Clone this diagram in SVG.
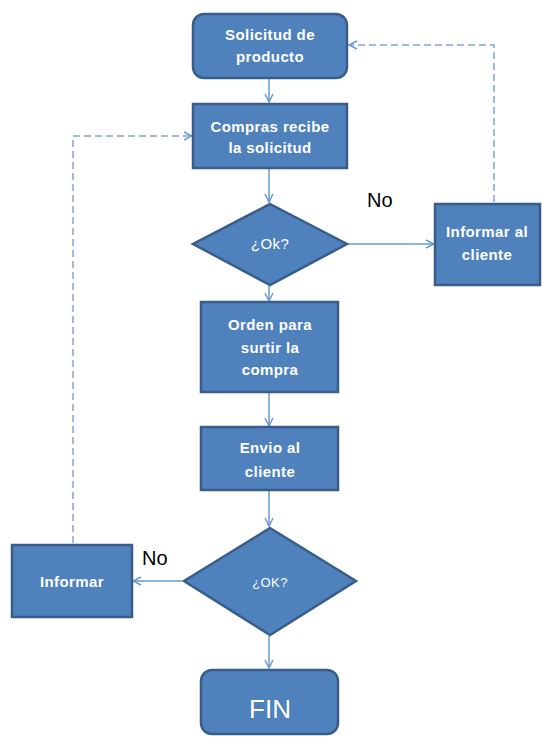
<svg xmlns="http://www.w3.org/2000/svg" width="542" height="738" viewBox="0 0 542 738">
<style>
.n{fill:#4F81BD;stroke:#385D8A;stroke-width:2.5}
.t{fill:#fff;font-family:"Liberation Sans",Arial,sans-serif;font-weight:bold;font-size:15px;letter-spacing:0.4px;text-anchor:middle}
.r{font-weight:normal}
.c{fill:none;stroke:#6A9AD4;stroke-width:1.5}
.d{fill:none;stroke:#7FA7DA;stroke-width:1.5;stroke-dasharray:7 4}
.l{fill:#000;font-family:"Liberation Sans",Arial,sans-serif;font-size:20px}
</style>
<defs>
<marker id="a" viewBox="0 0 10 10" refX="9" refY="5" markerWidth="10" markerHeight="10" markerUnits="userSpaceOnUse" orient="auto">
<polyline points="1,1 9,5 1,9" fill="none" stroke="#6A9AD4" stroke-width="1.5"/>
</marker>
</defs>
<g id="connectors">
<line class="c" x1="269" y1="79" x2="269" y2="102" marker-end="url(#a)"/>
<line class="c" x1="269" y1="169" x2="269" y2="202" marker-end="url(#a)"/>
<line class="c" x1="269" y1="286" x2="269" y2="301" marker-end="url(#a)"/>
<line class="c" x1="269" y1="393" x2="269" y2="426" marker-end="url(#a)"/>
<line class="c" x1="269" y1="491" x2="269" y2="526" marker-end="url(#a)"/>
<line class="c" x1="269" y1="636" x2="269" y2="668" marker-end="url(#a)"/>
<line class="c" x1="348" y1="244" x2="434" y2="244" marker-end="url(#a)"/>
<line class="c" x1="182" y1="581" x2="133" y2="581" marker-end="url(#a)"/>
<polyline class="d" points="494,202 494,45 349,45" marker-end="url(#a)"/>
<polyline class="d" points="73,543 73,136 192,136" marker-end="url(#a)"/>
<text class="l" x="367" y="207">No</text>
<text class="l" x="142" y="565">No</text>
</g>
<g id="solicitud">
<rect class="n" x="193" y="14" width="154" height="64" rx="11"/>
<text class="t" x="270" y="40">Solicitud de</text>
<text class="t" x="270" y="62">producto</text>
</g>
<g id="compras">
<rect class="n" x="193" y="104" width="154" height="64"/>
<text class="t" x="270" y="132">Compras recibe</text>
<text class="t" x="270" y="153">la solicitud</text>
</g>
<g id="ok1">
<polygon class="n" points="270,204 347,244 270,285 193,244"/>
<text class="t r" x="270" y="249">¿Ok?</text>
</g>
<g id="informar-cliente">
<rect class="n" x="435" y="204" width="105" height="81"/>
<text class="t" x="487" y="237">Informar al</text>
<text class="t" x="487" y="260">cliente</text>
</g>
<g id="orden">
<rect class="n" x="201" y="302" width="137" height="90"/>
<text class="t" x="270" y="330">Orden para</text>
<text class="t" x="270" y="353">surtir la</text>
<text class="t" x="270" y="375">compra</text>
</g>
<g id="envio">
<rect class="n" x="201" y="427" width="137" height="63"/>
<text class="t" x="270" y="453">Envio al</text>
<text class="t" x="270" y="477">cliente</text>
</g>
<g id="ok2">
<polygon class="n" points="270,528 356,581 270,635 184,581"/>
<text class="t r" x="270" y="587" style="font-size:13px">¿OK?</text>
</g>
<g id="informar">
<rect class="n" x="12" y="545" width="120" height="72"/>
<text class="t" x="72" y="587">Informar</text>
</g>
<g id="fin">
<rect class="n" x="201" y="670" width="137" height="64" rx="11"/>
<text class="t r" x="270" y="718" style="font-size:26px;letter-spacing:0">FIN</text>
</g>
</svg>
